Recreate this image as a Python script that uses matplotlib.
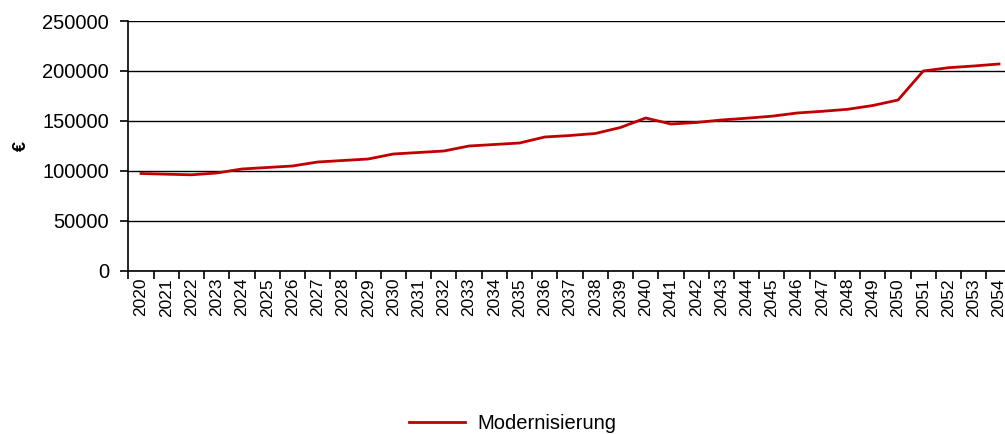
import matplotlib.pyplot as plt

plt.rcParams['font.family'] = ['Liberation Sans', 'DejaVu Sans']

years = [str(y) for y in range(2020, 2055)]
modernisierung = [97500, 96800, 96200, 98000, 102000, 103500, 105000, 109000, 110500, 112000,
                  117000, 118500, 120000, 125000, 126500, 128000, 134000, 135500, 137500, 143500,
                  153000, 147000, 148500, 151000, 152800, 154800, 158000, 159700, 161700, 165500,
                  171000, 200000, 203300, 205000, 207000]

fig = plt.figure(figsize=(10.05, 4.34), dpi=100)
ax = fig.add_axes([128.4 / 1005, (434 - 271) / 434, (1011.6 - 128.4) / 1005, 250 / 434])

x = list(range(len(years)))
ax.plot(x, modernisierung, color='#C00000', linewidth=2, label='Modernisierung', zorder=3)

ax.set_ylim(0, 250000)
ax.set_xlim(-0.5, len(years) - 0.5)
ax.set_yticks(range(0, 250001, 50000))
ax.set_yticklabels([str(v) for v in range(0, 250001, 50000)], fontsize=14.5)
ax.yaxis.grid(True, color='black', linewidth=1)
ax.set_axisbelow(True)

# Tick-Striche an den Kategoriegrenzen, Beschriftung in der Mitte
ax.set_xticks([i - 0.5 for i in range(len(years) + 1)])
ax.set_xticklabels([])
ax.set_xticks(x, minor=True)
ax.set_xticklabels(years, minor=True, rotation=90, fontsize=12.5)
ax.tick_params(axis='x', which='minor', length=0, pad=5)
ax.tick_params(axis='x', which='major', length=6, direction='out', width=1.2)
ax.tick_params(axis='y', length=6, direction='out', width=1.2, pad=8)

for s in ['top', 'right']:
    ax.spines[s].set_visible(False)
ax.spines['left'].set_linewidth(1.2)
ax.spines['bottom'].set_linewidth(1.2)

ax.set_ylabel('€', fontsize=13, fontweight='bold', labelpad=9)

fig.legend(loc='lower center', bbox_to_anchor=(0.51, -0.04), frameon=False, fontsize=14.5,
           handlelength=2.8, handletextpad=0.6)

fig.savefig('out.png', dpi=100)
